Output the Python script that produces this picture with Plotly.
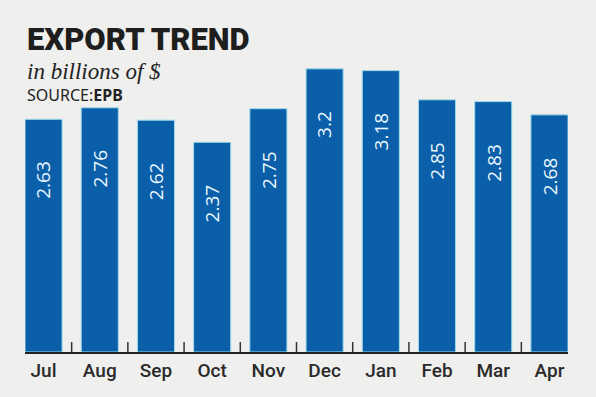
import plotly.graph_objects as go

months = ["Jul", "Aug", "Sep", "Oct", "Nov", "Dec", "Jan", "Feb", "Mar", "Apr"]
exports = [2.63, 2.76, 2.62, 2.37, 2.75, 3.2, 3.18, 2.85, 2.83, 2.68]
value_labels = ["2.63", "2.76", "2.62", "2.37", "2.75", "3.2", "3.18", "2.85", "2.83", "2.68"]

BG = "#efefed"
BAR = "#0b5fa9"

fig = go.Figure()
fig.add_trace(go.Bar(
    x=months, y=exports,
    marker=dict(color=BAR, line=dict(color="#9fdcea", width=1)),
    hoverinfo="skip",
))

annotations = []
for m, v, t in zip(months, exports, value_labels):
    annotations.append(dict(
        x=m, y=v, xref="x", yref="y", text=t, showarrow=False,
        textangle=-90, yanchor="top", xanchor="center", yshift=-40,
        font=dict(family="Open Sans, sans-serif", size=19, color="#eaf8ff"),
    ))

# headline texts
annotations += [
    dict(xref="paper", yref="paper", x=0.0, y=1.07, xanchor="left", yanchor="middle",
         text="EXPORT TREND", showarrow=False,
         font=dict(family="Roboto, sans-serif", size=31, weight=900, color="#1e1e1e")),
    dict(xref="paper", yref="paper", x=0.0, y=0.96, xanchor="left", yanchor="middle",
         text="<i>in billions of $</i>", showarrow=False,
         font=dict(family="Liberation Serif, serif", size=23, color="#222222")),
    dict(xref="paper", yref="paper", x=0.0, y=0.879, xanchor="left", yanchor="middle",
         text="SOURCE:<b>EPB</b>", showarrow=False,
         font=dict(family="Noto Sans, sans-serif", size=16, color="#222222")),
]

shapes = []
for i in range(len(months) - 1):
    shapes.append(dict(
        type="line", xref="x", yref="y", x0=i + 0.5, x1=i + 0.5,
        ysizemode="pixel", yanchor=0, y0=-11, y1=10,
        line=dict(color="#333333", width=1.5),
    ))

fig.update_layout(
    width=596, height=397,
    margin=dict(l=25, r=28, t=60, b=45),
    paper_bgcolor=BG, plot_bgcolor=BG,
    bargap=0.34,
    showlegend=False,
    annotations=annotations,
    shapes=shapes,
    xaxis=dict(
        range=[-0.33, 9.33], showgrid=False, zeroline=False,
        showline=True, linecolor="#222222", linewidth=2,
        ticks="", ticklabelstandoff=0,
        tickfont=dict(family="Roboto, sans-serif", size=19, weight=500, color="#2a2a2a"),
    ),
    yaxis=dict(range=[0, 3.3], visible=False, showgrid=False, zeroline=False),
)

fig.write_html("out.html", config={"displayModeBar": False},
               post_script="document.body.style.margin='0';")
